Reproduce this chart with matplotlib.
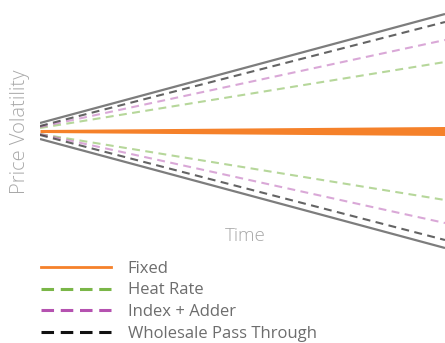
"""
Price volatility cone by contract type.
"""
import matplotlib
matplotlib.use("Agg")
import matplotlib.pyplot as plt
from matplotlib.lines import Line2D

# time runs from contract start to end
time = [0, 1]

# spread around the starting price (upper / lower edge of each cone)
envelope_upper = [8, 117]
envelope_lower = [-8, -117]
wholesale_upper = [5, 109]
wholesale_lower = [-4, -109]
index_upper = [4, 91]
index_lower = [-3, -92]
heat_upper = [3, 69]
heat_lower = [-3, -69]
fixed_halfwidth = [1.5, 4.5]

labels = ["Fixed", "Heat Rate", "Index + Adder", "Wholesale Pass Through"]
colors = ["#f5812a", "#7ab648", "#b552b0", "#111111"]

text_color = "#6d6d6d"
plt.rcParams["font.family"] = ["Open Sans", "DejaVu Sans"]

fig = plt.figure(figsize=(4.45, 3.43), dpi=100)
ax = fig.add_axes([40 / 445, 81 / 343, 405 / 445, 262 / 343])
ax.set_xlim(0, 1)
ax.set_ylim(-131, 131)
ax.axis("off")

dash = (3.8, 2.6)
ax.plot(time, envelope_upper, color="#7d7d7d", lw=1.6, solid_capstyle="butt")
ax.plot(time, envelope_lower, color="#7d7d7d", lw=1.6, solid_capstyle="butt")
for up, lo, c, a in [(heat_upper, heat_lower, colors[1], 0.55),
                     (index_upper, index_lower, colors[2], 0.5),
                     (wholesale_upper, wholesale_lower, colors[3], 0.65)]:
    ax.plot(time, up, color=c, alpha=a, lw=1.5, dashes=dash)
    ax.plot(time, lo, color=c, alpha=a, lw=1.5, dashes=dash)

ax.fill_between(time, [-w for w in fixed_halfwidth], fixed_halfwidth,
                color=colors[0], lw=0)

fig.text(20 / 445, 1 - 132 / 343, "Price Volatility", rotation=90,
         ha="center", va="center", fontsize=14.5, color="#a8a8a8",
         fontweight="light")
fig.text(245 / 445, 1 - 236 / 343, "Time", ha="center", va="center",
         fontsize=13.5, color="#a8a8a8", fontweight="light")

handles = [
    Line2D([], [], color=colors[0], lw=2),
    Line2D([], [], color=colors[1], lw=2.2, dashes=(4.1, 2.2)),
    Line2D([], [], color=colors[2], lw=2.2, dashes=(4.1, 2.2)),
    Line2D([], [], color=colors[3], lw=2.2, dashes=(4.1, 2.2)),
]
fig.legend(handles, labels, loc="upper left",
           bbox_to_anchor=(26 / 445, 1 - 246 / 343), frameon=False,
           fontsize=12, handlelength=4.2, handletextpad=1.0,
           labelspacing=0.33, labelcolor=text_color)

fig.savefig("out.png", dpi=100)
